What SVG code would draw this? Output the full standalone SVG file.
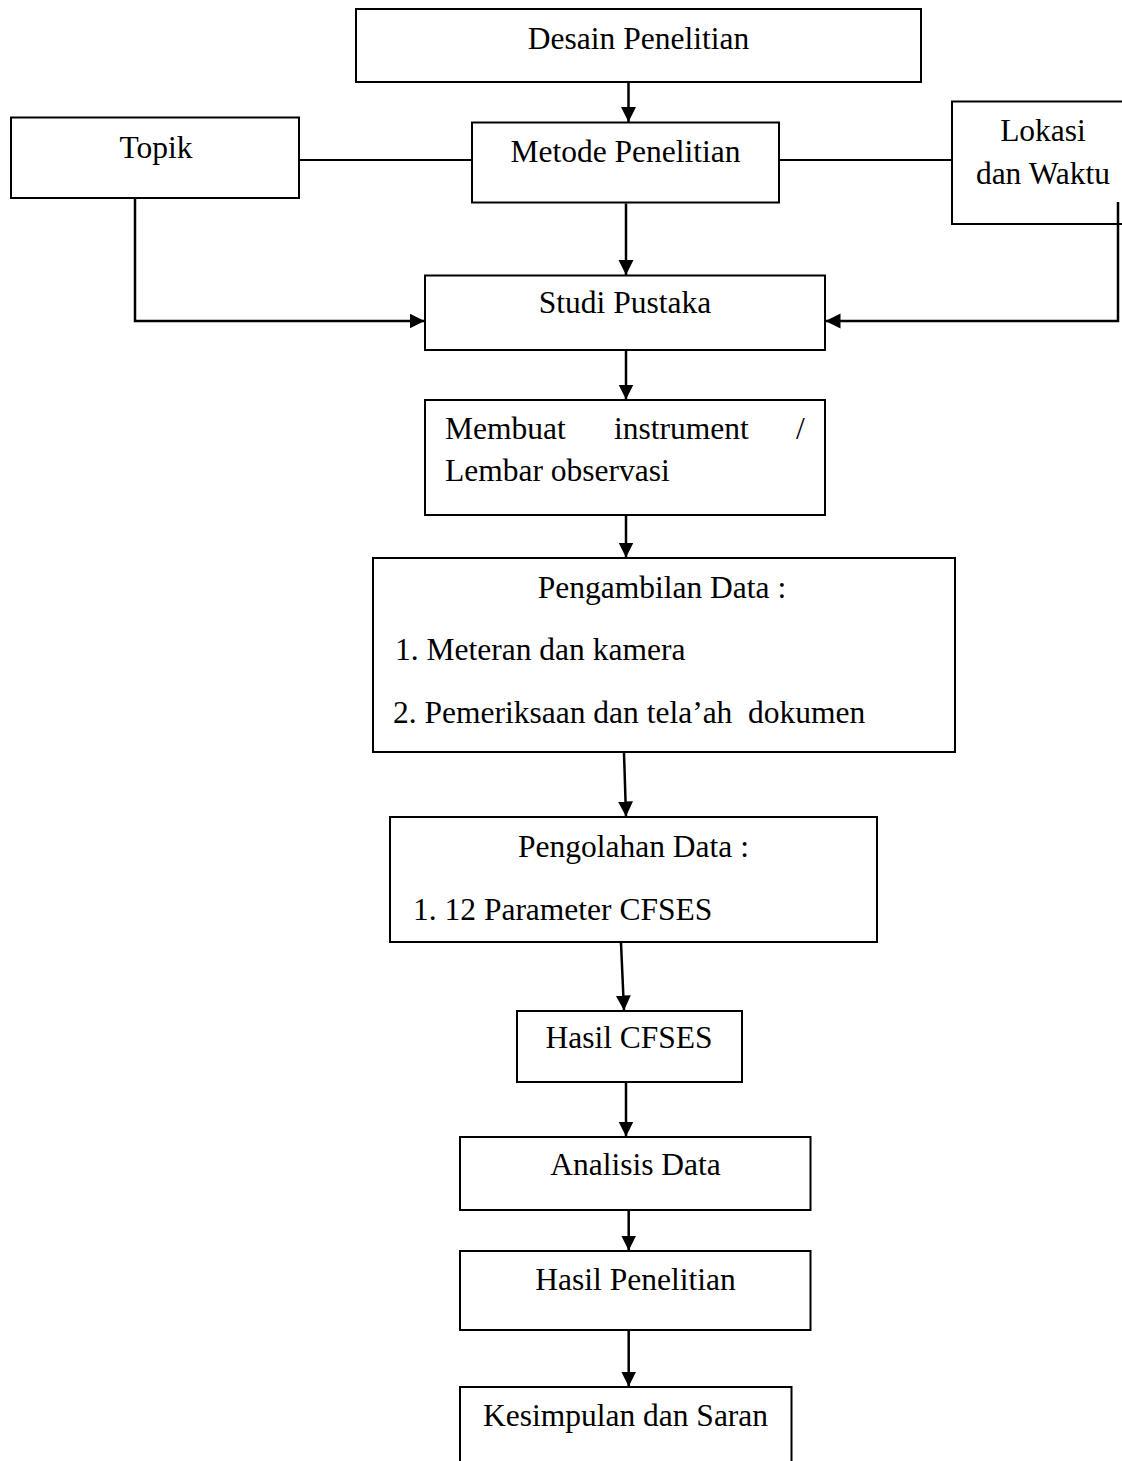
<svg xmlns="http://www.w3.org/2000/svg" width="1122" height="1461" viewBox="0 0 1122 1461">
<style>
  .box { fill: #ffffff; stroke: #000000; stroke-width: 2; }
  .t { font-family: "Liberation Serif", "Times New Roman", serif; font-size: 31.5px; fill: #000000; }
  .c { text-anchor: middle; }
  .arrow { fill: none; stroke: #000000; stroke-width: 2.5; marker-end: url(#ah); }
  .line { fill: none; stroke: #000000; stroke-width: 1.8; }
</style>
<defs>
  <marker id="ah" markerUnits="userSpaceOnUse" markerWidth="16" markerHeight="16" refX="15" refY="7.5" orient="auto">
    <path d="M0,0 L15,7.5 L0,15 Z" fill="#000000"/>
  </marker>
</defs>
<rect width="1122" height="1461" fill="#ffffff"/>

<g id="desain">
  <rect class="box" x="356" y="9" width="565" height="73"/>
  <text class="t c" x="638.5" y="49">Desain Penelitian</text>
</g>

<g id="topik">
  <rect class="box" x="11" y="117.5" width="288" height="80.5"/>
  <text class="t c" x="156" y="157.5">Topik</text>
</g>

<g id="metode">
  <rect class="box" x="472" y="122.5" width="307" height="80"/>
  <text class="t c" x="625.5" y="161.5">Metode Penelitian</text>
</g>

<g id="lokasi">
  <rect class="box" x="952" y="101.5" width="185" height="122.5"/>
  <text class="t c" x="1043" y="140.5">Lokasi</text>
  <text class="t c" x="1043" y="184">dan Waktu</text>
</g>

<g id="studi">
  <rect class="box" x="425" y="275.5" width="400" height="74.5"/>
  <text class="t c" x="625" y="313">Studi Pustaka</text>
</g>

<g id="membuat">
  <rect class="box" x="425" y="400" width="400" height="115"/>
  <text class="t" y="439"><tspan x="445">Membuat</tspan><tspan x="614">instrument</tspan><tspan x="796">/</tspan></text>
  <text class="t" x="445" y="481">Lembar observasi</text>
</g>

<g id="pengambilan">
  <rect class="box" x="373" y="558" width="582" height="194"/>
  <text class="t c" x="662" y="598">Pengambilan Data :</text>
  <text class="t" x="395" y="660">1. Meteran dan kamera</text>
  <text class="t" x="393" y="723" xml:space="preserve">2. Pemeriksaan dan tela’ah  dokumen</text>
</g>

<g id="pengolahan">
  <rect class="box" x="390" y="817" width="487" height="125"/>
  <text class="t c" x="633.5" y="857">Pengolahan Data :</text>
  <text class="t" x="413" y="920">1. 12 Parameter CFSES</text>
</g>

<g id="hasil-cfses">
  <rect class="box" x="517" y="1011" width="225" height="71"/>
  <text class="t c" x="629" y="1048">Hasil CFSES</text>
</g>

<g id="analisis">
  <rect class="box" x="460" y="1137" width="350.5" height="73"/>
  <text class="t c" x="635.5" y="1175">Analisis Data</text>
</g>

<g id="hasil-penelitian">
  <rect class="box" x="460" y="1251" width="350.5" height="79"/>
  <text class="t c" x="635.5" y="1290">Hasil Penelitian</text>
</g>

<g id="kesimpulan">
  <rect class="box" x="460" y="1387" width="331.5" height="90"/>
  <text class="t c" x="625.5" y="1426">Kesimpulan dan Saran</text>
</g>

<g id="connectors">
  <line class="arrow" x1="628.5" y1="83" x2="628.5" y2="122"/>
  <line class="line" x1="300" y1="160" x2="471" y2="160"/>
  <line class="line" x1="780" y1="160" x2="951" y2="160"/>
  <line class="arrow" x1="626" y1="203.5" x2="626" y2="275"/>
  <polyline class="arrow" points="135,199 135,321 424.5,321"/>
  <polyline class="arrow" points="1118,202 1118,321 825.5,321"/>
  <line class="arrow" x1="626" y1="351" x2="626" y2="399.5"/>
  <line class="arrow" x1="626" y1="516" x2="626" y2="557.5"/>
  <line class="arrow" x1="624" y1="753" x2="626" y2="816.5"/>
  <line class="arrow" x1="621" y1="943" x2="624" y2="1010.5"/>
  <line class="arrow" x1="626" y1="1083" x2="626" y2="1136.5"/>
  <line class="arrow" x1="628.7" y1="1211" x2="628.7" y2="1250.5"/>
  <line class="arrow" x1="628.7" y1="1331" x2="628.7" y2="1386.5"/>
</g>
</svg>
